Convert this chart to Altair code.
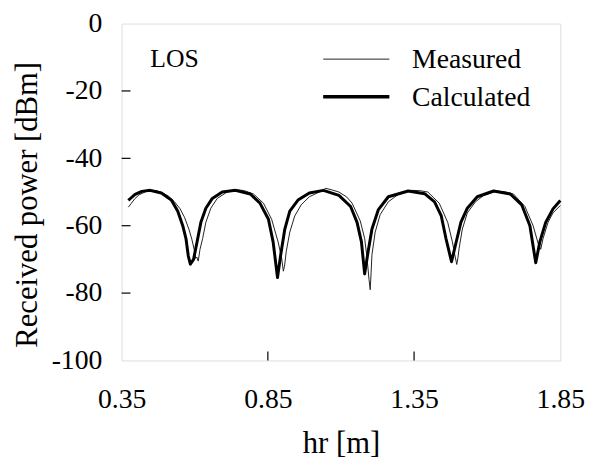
import altair as alt
import pandas as pd

# Calculated curve (x in m, received power in dBm)
calc_x = [0.373, 0.379, 0.396, 0.419, 0.447, 0.486, 0.520, 0.542, 0.559, 0.570, 0.578, 0.585,
          0.596, 0.607, 0.621, 0.638, 0.660, 0.694, 0.739, 0.790, 0.823, 0.852, 0.868, 0.883,
          0.894, 0.908, 0.925, 0.953, 0.992, 1.040, 1.093, 1.133, 1.155, 1.170, 1.181, 1.193,
          1.206, 1.228, 1.262, 1.330, 1.386, 1.420, 1.443, 1.459, 1.478, 1.493, 1.510, 1.532,
          1.566, 1.622, 1.679, 1.718, 1.746, 1.766, 1.780, 1.800, 1.825, 1.850]
calc_y = [-52.5, -52.0, -50.7, -49.8, -49.5, -50.3, -52.4, -55.7, -60.0, -63.8, -69.0, -71.4,
          -70.0, -65.2, -59.0, -54.8, -51.9, -50.0, -49.5, -50.6, -53.3, -58.1, -64.8, -75.4,
          -68.6, -61.0, -55.7, -52.4, -50.3, -49.5, -51.0, -54.3, -59.0, -64.8, -74.3, -67.6,
          -61.0, -55.2, -51.4, -49.7, -50.5, -52.9, -57.1, -63.8, -70.7, -65.2, -59.0, -54.8,
          -51.4, -49.7, -50.6, -53.8, -60.0, -71.0, -64.8, -59.0, -55.0, -52.5]

# Measured curve
meas_x = [0.373, 0.382, 0.395, 0.410, 0.430, 0.450, 0.470, 0.490, 0.510, 0.530, 0.550, 0.565,
          0.580, 0.590, 0.598, 0.603, 0.607, 0.612, 0.618, 0.627, 0.638, 0.655, 0.677, 0.711,
          0.745, 0.770, 0.801, 0.835, 0.863, 0.885, 0.897, 0.903, 0.907, 0.913, 0.925, 0.942,
          0.964, 0.992, 1.026, 1.048, 1.070, 1.093, 1.120, 1.138, 1.166, 1.181, 1.189, 1.196,
          1.200, 1.203, 1.206, 1.217, 1.234, 1.262, 1.296, 1.341, 1.370, 1.397, 1.436, 1.465,
          1.481, 1.490, 1.496, 1.500, 1.504, 1.515, 1.532, 1.560, 1.588, 1.633, 1.660, 1.690,
          1.729, 1.757, 1.774, 1.783, 1.791, 1.808, 1.825, 1.850]
meas_y = [-54.5, -53.5, -52.0, -50.8, -50.0, -49.4, -49.6, -50.3, -51.2, -52.8, -55.0, -57.5,
          -61.0, -64.0, -67.0, -69.7, -69.3, -70.5, -67.0, -63.8, -59.0, -54.8, -51.9, -50.0,
          -49.3, -49.6, -50.6, -53.3, -58.1, -64.8, -69.5, -73.5, -72.0, -67.6, -61.9, -57.1,
          -53.8, -51.4, -50.0, -48.9, -49.4, -50.0, -51.5, -53.3, -58.6, -63.8, -69.5, -76.0,
          -79.0, -74.0, -68.6, -61.9, -56.7, -52.9, -50.7, -49.5, -49.6, -50.0, -53.3, -59.0,
          -64.8, -69.0, -71.5, -69.5, -66.7, -61.0, -56.2, -52.9, -51.0, -49.7, -49.9, -50.6,
          -54.3, -60.0, -65.2, -67.0, -63.8, -59.0, -56.2, -54.0]

x_ticks = [0.35, 0.85, 1.35, 1.85]
y_ticks = [0, -20, -40, -60, -80, -100]
x_inner_ticks = [0.85, 1.35]
y_inner_ticks = [-20, -40, -60, -80]
legend_labels = ["Measured", "Calculated"]
annotation = "LOS"

FONT = "Times New Roman, Liberation Serif, DejaVu Serif, serif"
W, H = 444, 341

calc_df = pd.DataFrame({"x": calc_x, "y": calc_y})
meas_df = pd.DataFrame({"x": meas_x, "y": meas_y})

xs = alt.Scale(domain=[0.35, 1.85], nice=False, zero=False)
ys = alt.Scale(domain=[-100, 0], nice=False, zero=False)

x_axis = alt.Axis(values=x_ticks, format=".2f", title="hr  [m]", ticks=False, domain=False,
                  grid=False, labelFont=FONT, labelFontSize=28, labelPadding=40,
                  labelBaseline="middle",
                  titleFont=FONT, titleFontSize=31, titleFontWeight="normal",
                  titleX=W / 2, titleY=84, titleBaseline="middle", titleAnchor="middle",
                  labelColor="black", titleColor="black", labelFlush=False)
y_axis = alt.Axis(values=y_ticks, labelExpr="toString(datum.value)", title="Received power  [dBm]",
                  ticks=False, domain=False, grid=False, labelFont=FONT, labelFontSize=28,
                  labelPadding=20, titleFont=FONT, titleFontSize=31, titleFontWeight="normal",
                  titleX=-95, titleY=183, titleBaseline="middle", titleAngle=270,
                  titleAnchor="middle",
                  labelColor="black", titleColor="black", labelFlush=False)

meas = alt.Chart(meas_df).mark_line(color="#222222", strokeWidth=1, interpolate="linear").encode(
    x=alt.X("x:Q", scale=xs, axis=x_axis),
    y=alt.Y("y:Q", scale=ys, axis=y_axis),
)
calc = alt.Chart(calc_df).mark_line(color="black", strokeWidth=3, strokeJoin="round").encode(
    x=alt.X("x:Q", scale=xs),
    y=alt.Y("y:Q", scale=ys),
)

yt = alt.Chart(pd.DataFrame({"v": y_inner_ticks})).mark_rule(color="black", strokeWidth=1.2).encode(
    y=alt.Y("v:Q", scale=ys), x=alt.value(0), x2=alt.value(9))
xt = alt.Chart(pd.DataFrame({"v": x_inner_ticks})).mark_rule(color="black", strokeWidth=1.2).encode(
    x=alt.X("v:Q", scale=xs), y=alt.value(H), y2=alt.value(H - 9))

leg_df = pd.DataFrame({"label": legend_labels, "row": [0, 1]})
leg_meas = alt.Chart(leg_df[leg_df.row == 0]).mark_rule(color="#222222", strokeWidth=1).encode(
    x=alt.value(204), x2=alt.value(271), y=alt.value(36))
leg_calc = alt.Chart(leg_df[leg_df.row == 1]).mark_rule(color="black", strokeWidth=3.5).encode(
    x=alt.value(204), x2=alt.value(271), y=alt.value(74))
leg_txt1 = alt.Chart(leg_df[leg_df.row == 0]).mark_text(
    font=FONT, fontSize=28, align="left", baseline="middle", color="black").encode(
    text="label:N", x=alt.value(294), y=alt.value(37))
leg_txt2 = alt.Chart(leg_df[leg_df.row == 1]).mark_text(
    font=FONT, fontSize=28, align="left", baseline="middle", color="black").encode(
    text="label:N", x=alt.value(294), y=alt.value(75))
los = alt.Chart(pd.DataFrame({"t": [annotation]})).mark_text(
    font=FONT, fontSize=26, align="left", baseline="middle", color="black").encode(
    text="t:N", x=alt.value(29), y=alt.value(36))

chart = alt.layer(meas, calc, yt, xt, leg_meas, leg_calc, leg_txt1, leg_txt2, los).properties(
    width=W, height=H,
    autosize=alt.AutoSizeParams(type="none"),
    padding={"left": 115, "top": 13, "right": 26, "bottom": 100},
).configure_view(stroke="black", strokeWidth=1.5).configure(background="white")

chart.save("out.html", embed_options={"renderer": "svg", "actions": False})
